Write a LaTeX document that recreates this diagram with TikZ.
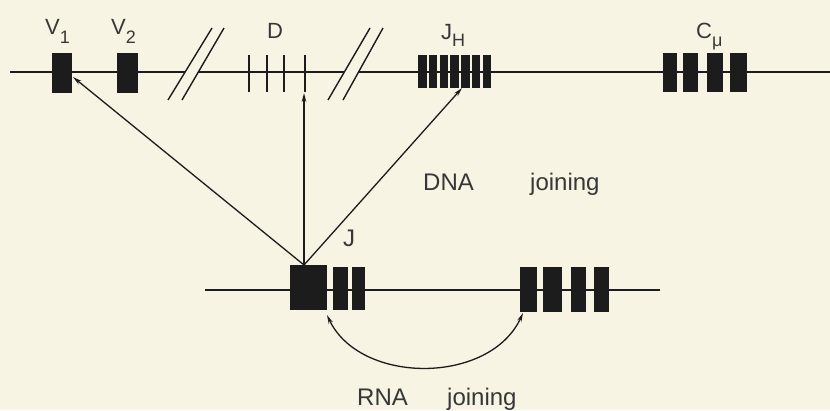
\documentclass[tikz,border=0pt]{standalone}
\usepackage{fontspec}
\setmainfont{Liberation Sans}
\usetikzlibrary{arrows.meta}
\definecolor{bg}{RGB}{247,244,228}
\definecolor{ink}{RGB}{28,28,28}
\definecolor{txt}{RGB}{55,55,55}
\newcommand\lsub[2]{\raisebox{-#1}{\fontsize{18}{18}\selectfont #2}}
\tikzset{
  exon/.style={fill=ink, draw=none, inner sep=0pt, outer sep=0pt},
  dnaline/.style={draw=ink, line width=2pt},
  slash/.style={draw=ink, line width=1.4pt},
  joinarrow/.style={draw=ink, line width=1.3pt, -{Stealth[length=9pt,width=4.5pt]}},
  lab/.style={text=txt, font=\fontsize{22}{24}\selectfont, inner sep=0pt, anchor=base west},
  biglab/.style={text=txt, font=\fontsize{24}{26}\selectfont, inner sep=0pt, anchor=base west}
}
\begin{document}
\begin{tikzpicture}[x=1pt,y=-1pt]
\useasboundingbox (0,0) rectangle (830,410);
\fill[bg] (0,0) rectangle (830,410);

% top DNA line with breaks
\coordinate (L0) at (10,72);
\coordinate (s1a) at (185,72);
\coordinate (s1b) at (198,72);
\coordinate (s2a) at (344,72);
\coordinate (s2b) at (359,72);
\coordinate (L1) at (830,72);
\draw[dnaline] (L0) -- (s1a);
\draw[dnaline] (s1b) -- (s2a);
\draw[dnaline] (s2b) -- (L1);
% double slashes
\draw[slash] (168,100) -- (212,28);
\draw[slash] (182,100) -- (224,28);
\draw[slash] (328,100) -- (370,28);
\draw[slash] (343,100) -- (383,28);

% V segments
\node[exon, minimum width=20pt, minimum height=40pt] (V1) at (62,73) {};
\node[exon, minimum width=21pt, minimum height=40pt] (V2) at (127.5,73) {};
% D segments
\foreach \x [count=\i] in {249,267,284,305}
  \node[exon, minimum width=2pt, minimum height=37pt] (d\i) at (\x,73.5) {};
% J_H segments
\foreach \i in {1,...,7}
  \node[exon, minimum width=8.6pt, minimum height=33pt] (jh\i) at ({418+4.3+(\i-1)*10.75},71.5) {};
% C mu segments
\node[exon, minimum width=14pt, minimum height=39pt] (cm1) at (670,72.5) {};
\node[exon, minimum width=15pt, minimum height=39pt] (cm2) at (690.5,72.5) {};
\node[exon, minimum width=16pt, minimum height=39pt] (cm3) at (715,72.5) {};
\node[exon, minimum width=17pt, minimum height=39pt] (cm4) at (738.5,72.5) {};

% labels top
\node[lab] (tV1) at (45,34) {V\lsub{9pt}{1}};
\node[lab] (tV2) at (111,34) {V\lsub{9pt}{2}};
\node[lab] (tD) at (267,38) {D};
\node[lab] (tJH) at (441,39) {J\lsub{7pt}{H}};
\node[lab] (tC) at (696,38) {C\lsub{8pt}{μ}};

% lower line
\coordinate (M0) at (205,290);
\coordinate (M1) at (660,290);
\draw[dnaline] (M0) -- (M1);
\node[exon, minimum width=37pt, minimum height=45pt] (J0) at (308.5,287.5) {};
\node[exon, minimum width=15pt, minimum height=43pt] (j1) at (340.5,288.5) {};
\node[exon, minimum width=13pt, minimum height=43pt] (j2) at (358.5,288.5) {};
\node[exon, minimum width=17pt, minimum height=45pt] (c1) at (528.5,289.5) {};
\node[exon, minimum width=19pt, minimum height=45pt] (c2) at (552.5,289.5) {};
\node[exon, minimum width=15pt, minimum height=45pt] (c3) at (578.5,289.5) {};
\node[exon, minimum width=15pt, minimum height=45pt] (c4) at (601.5,289.5) {};

% DNA joining arrows
\coordinate (jt) at (304,265);
\coordinate (v1t) at (73,77);
\coordinate (jht) at (462,88);
\coordinate (dt) at (304,93);
\draw[joinarrow] (jt) -- (v1t);
\draw[joinarrow] (jt) -- (dt);
\draw[joinarrow] (jt) -- (jht);

\node[biglab] (tJ) at (343,246) {J};
\node[biglab] (tDNA) at (423,190) {DNA};
\node[biglab] (tDj) at (530,190) {joining};

% RNA joining arc
\coordinate (aL) at (327,315);
\coordinate (aR) at (523,313);
\draw[draw=ink, line width=1.3pt, {Stealth[length=9pt,width=4.5pt]}-{Stealth[length=9pt,width=4.5pt]}]
  (aL) .. controls (360,385) and (490,385) .. (aR);
\node[biglab] (tRNA) at (357,405) {RNA};
\node[biglab] (tRj) at (447,405) {joining};
\end{tikzpicture}
\end{document}
